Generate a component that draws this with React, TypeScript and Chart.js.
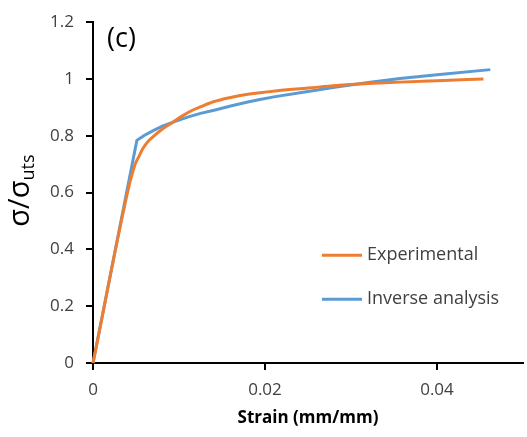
import { useEffect, useRef } from "react";
import { Chart, registerables } from "chart.js";

Chart.register(...registerables);

const expStrain = [0, 0.0042, 0.0046, 0.0049, 0.0053, 0.0058, 0.0064, 0.007, 0.008, 0.0093, 0.0105, 0.0115, 0.0125, 0.014, 0.016, 0.018, 0.0212, 0.025, 0.0283, 0.032, 0.0357, 0.04, 0.0454];
const expStress = [0, 0.625, 0.67, 0.7, 0.725, 0.755, 0.78, 0.797, 0.822, 0.848, 0.872, 0.889, 0.902, 0.92, 0.935, 0.946, 0.958, 0.968, 0.977, 0.984, 0.989, 0.994, 1.0];
const invStrain = [0, 0.0051, 0.006, 0.007, 0.008, 0.0093, 0.011, 0.0125, 0.0142, 0.016, 0.018, 0.0194, 0.0212, 0.025, 0.0283, 0.032, 0.0357, 0.04, 0.0462];
const invStress = [0, 0.784, 0.802, 0.818, 0.833, 0.848, 0.866, 0.879, 0.891, 0.905, 0.919, 0.928, 0.938, 0.956, 0.972, 0.988, 1.002, 1.015, 1.033];
const xTicks = [0, 0.02, 0.04];
const yTicks = [0, 0.2, 0.4, 0.6, 0.8, 1, 1.2];
const seriesNames = ["Experimental", "Inverse analysis"];
const seriesColors = ["#ED7D31", "#5B9BD5"];
const panelLabel = "(c)";
const xTitle = "Strain (mm/mm)";
const yTitleMain = "σ/σ";
const yTitleSub = "uts";

export default function App() {
  const ref = useRef<HTMLCanvasElement>(null);
  useEffect(() => {
    const FONT = "'Open Sans', sans-serif";
    const annot = {
      id: "annot",
      afterDraw(chart: any) {
        const ctx = chart.ctx;
        const ca = chart.chartArea;
        ctx.save();
        // legend
        ctx.font = `18px ${FONT}`;
        ctx.textBaseline = "middle";
        ctx.textAlign = "left";
        seriesNames.forEach((name, i) => {
          const y = ca.top + 233 + i * 44;
          const x0 = ca.left + 229;
          ctx.strokeStyle = seriesColors[i];
          ctx.lineWidth = 3;
          ctx.beginPath();
          ctx.moveTo(x0, y);
          ctx.lineTo(x0 + 40, y);
          ctx.stroke();
          ctx.fillStyle = "#404040";
          ctx.fillText(name, x0 + 45, y);
        });
        // panel label
        ctx.fillStyle = "#000";
        ctx.font = `27px ${FONT}`;
        ctx.fillText(panelLabel, ca.left + 14, ca.top + 17);
        // x title
        ctx.font = `bold 17px ${FONT}`;
        ctx.textAlign = "center";
        ctx.fillText(xTitle, (ca.left + ca.right) / 2, 418);
        // y title
        ctx.translate(29, (ca.top + ca.bottom) / 2 - 2);
        ctx.rotate(-Math.PI / 2);
        ctx.textAlign = "left";
        ctx.textBaseline = "alphabetic";
        ctx.font = `29px ${FONT}`;
        const w1 = ctx.measureText(yTitleMain).width;
        ctx.font = `18px ${FONT}`;
        const w2 = ctx.measureText(yTitleSub).width;
        const start = -(w1 + w2) / 2;
        ctx.font = `29px ${FONT}`;
        ctx.fillText(yTitleMain, start, 0);
        ctx.font = `18px ${FONT}`;
        ctx.fillText(yTitleSub, start + w1, 5);
        ctx.restore();
      },
    };
    const gridOpts = {
      display: true,
      drawOnChartArea: false,
      drawTicks: true,
      tickLength: 7,
      color: "#000",
      lineWidth: 2,
    };
    const chart = new Chart(ref.current!, {
      type: "line",
      data: {
        datasets: [
          {
            label: seriesNames[0],
            data: expStrain.map((x, i) => ({ x, y: expStress[i] })),
            borderColor: seriesColors[0],
            backgroundColor: seriesColors[0],
            borderWidth: 3,
            pointRadius: 0,
            cubicInterpolationMode: "monotone",
            clip: false,
          },
          {
            label: seriesNames[1],
            data: invStrain.map((x, i) => ({ x, y: invStress[i] })),
            borderColor: seriesColors[1],
            backgroundColor: seriesColors[1],
            borderWidth: 3,
            pointRadius: 0,
            tension: 0,
            clip: false,
          },
        ],
      },
      options: {
        animation: false,
        responsive: true,
        maintainAspectRatio: false,
        layout: { padding: { left: 0, top: 20, right: 4, bottom: 0 } },
        plugins: { legend: { display: false }, tooltip: { enabled: false } },
        scales: {
          x: {
            type: "linear",
            min: 0,
            max: 0.05,
            grid: gridOpts,
            border: { display: true, color: "#000", width: 2 },
            afterBuildTicks: (s: any) => {
              s.ticks = xTicks.map((v) => ({ value: v }));
            },
            afterFit: (s: any) => {
              s.height = 74;
            },
            ticks: {
              padding: 10,
              maxRotation: 0,
              color: "#404040",
              font: { family: FONT, size: 17 },
              callback: (v: any) => String(v),
            },
          },
          y: {
            type: "linear",
            min: 0,
            max: 1.2,
            grid: gridOpts,
            border: { display: true, color: "#000", width: 2 },
            afterBuildTicks: (s: any) => {
              s.ticks = yTicks.map((v) => ({ value: v }));
            },
            afterFit: (s: any) => {
              s.width = 93;
            },
            ticks: {
              padding: 12,
              color: "#404040",
              font: { family: FONT, size: 17 },
              callback: (v: any) => String(v),
            },
          },
        },
      },
      plugins: [annot],
    } as any);
    return () => chart.destroy();
  }, []);
  return (
    <div style={{ position: "absolute", left: 0, top: 0, width: 527, height: 437, background: "#fff" }}>
      <canvas ref={ref} />
    </div>
  );
}
